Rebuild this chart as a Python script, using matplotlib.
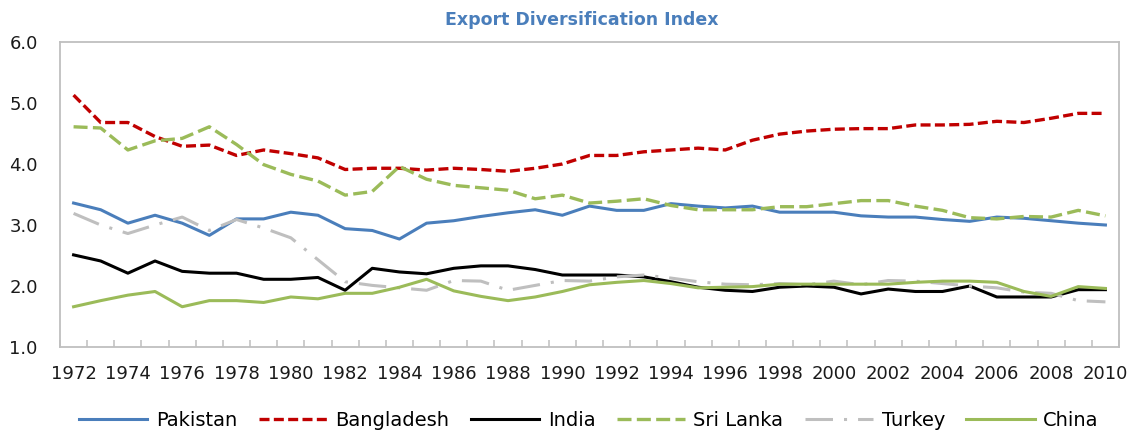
import numpy as np
import matplotlib
matplotlib.use("Agg")
import matplotlib.pyplot as plt

# --- Data ---
years = list(range(1972, 2011))

pakistan = [3.36, 3.25, 3.03, 3.16, 3.03, 2.83, 3.10, 3.10, 3.21, 3.16,
            2.94, 2.91, 2.77, 3.03, 3.07, 3.14, 3.20, 3.25, 3.16, 3.31,
            3.24, 3.24, 3.35, 3.31, 3.28, 3.31, 3.21, 3.21, 3.21, 3.15,
            3.13, 3.13, 3.09, 3.06, 3.13, 3.11, 3.07, 3.03, 3.00]
bangladesh = [5.13, 4.68, 4.68, 4.45, 4.29, 4.31, 4.14, 4.23, 4.17, 4.10,
              3.91, 3.93, 3.93, 3.90, 3.93, 3.91, 3.88, 3.93, 4.00, 4.14,
              4.14, 4.20, 4.23, 4.26, 4.23, 4.39, 4.49, 4.54, 4.57, 4.58,
              4.58, 4.64, 4.64, 4.65, 4.70, 4.68, 4.75, 4.83, 4.83]
india = [2.51, 2.41, 2.21, 2.41, 2.24, 2.21, 2.21, 2.11, 2.11, 2.14,
         1.93, 2.29, 2.23, 2.20, 2.29, 2.33, 2.33, 2.27, 2.18, 2.18,
         2.18, 2.15, 2.07, 1.98, 1.93, 1.91, 1.98, 2.00, 1.98, 1.87,
         1.95, 1.91, 1.91, 2.00, 1.82, 1.82, 1.82, 1.94, 1.94]
sri_lanka = [4.61, 4.59, 4.23, 4.38, 4.42, 4.61, 4.32, 3.99, 3.83, 3.72,
             3.49, 3.55, 3.96, 3.75, 3.65, 3.61, 3.57, 3.43, 3.49, 3.36,
             3.39, 3.43, 3.32, 3.25, 3.25, 3.25, 3.30, 3.30, 3.35, 3.40,
             3.40, 3.31, 3.24, 3.12, 3.10, 3.14, 3.13, 3.24, 3.15]
turkey = [3.19, 3.00, 2.86, 3.00, 3.13, 2.91, 3.09, 2.95, 2.79, 2.43,
          2.07, 2.01, 1.97, 1.93, 2.09, 2.08, 1.93, 2.01, 2.09, 2.08,
          2.15, 2.18, 2.13, 2.07, 2.03, 2.02, 2.04, 2.02, 2.08, 2.02,
          2.09, 2.08, 2.04, 2.00, 1.97, 1.90, 1.88, 1.76, 1.74]
china = [1.66, 1.76, 1.85, 1.91, 1.66, 1.76, 1.76, 1.73, 1.82, 1.79,
         1.88, 1.88, 1.98, 2.11, 1.92, 1.83, 1.76, 1.82, 1.91, 2.02,
         2.06, 2.09, 2.04, 1.97, 1.98, 1.99, 2.03, 2.03, 2.03, 2.03,
         2.03, 2.06, 2.08, 2.08, 2.06, 1.91, 1.83, 1.99, 1.96]

y_ticks = [1.0, 2.0, 3.0, 4.0, 5.0, 6.0]

# --- Styles ---
BLUE = "#4A7EBB"
RED = "#C00000"
LGREEN = "#9BBB59"
GREY = "#BFBFBF"

fig = plt.figure(figsize=(11.35, 4.32), dpi=100)
ax = fig.add_axes([60 / 1135, 1 - 347 / 432, 1059 / 1135, 305 / 432])

x = np.arange(len(years))
lw = 2.2
ax.plot(x, pakistan, color=BLUE, lw=lw, label="Pakistan")
ax.plot(x, bangladesh, color=RED, lw=2.4, dashes=(3.0, 1.3), label="Bangladesh")
ax.plot(x, india, color="black", lw=lw, label="India")
ax.plot(x, sri_lanka, color=LGREEN, lw=2.4, dashes=(4.2, 1.6), label="Sri Lanka")
ax.plot(x, turkey, color=GREY, lw=lw, dashes=(9.0, 3.6, 1.0, 3.6), label="Turkey")
ax.plot(x, china, color=LGREEN, lw=lw, label="China")

# axes / ticks
ax.set_xlim(-0.5, len(years) - 0.5)
ax.set_ylim(1.0, 6.0)
ax.set_yticks(y_ticks)
ax.set_yticklabels([f"{v:.1f}" for v in y_ticks])
ax.set_xticks(x[::2])
ax.set_xticklabels([str(y) for y in years[::2]])
ax.set_xticks(np.arange(-0.5, len(years) + 0.5, 1.0), minor=True)

ax.tick_params(axis="x", which="major", length=0, pad=13, labelsize=13, colors="#1a1a1a")
ax.tick_params(axis="x", which="minor", direction="in", length=5, width=1.1, color=GREY)
ax.tick_params(axis="y", length=0, pad=16, labelsize=13, colors="#1a1a1a")

for s in ax.spines.values():
    s.set_color(GREY)
    s.set_linewidth(1.3)

fig.text(582 / 1135, 1 - 20 / 432, "Export Diversification Index",
         ha="center", va="center", fontsize=12.5, fontweight="bold", color=BLUE)

fig.legend(loc="center", bbox_to_anchor=(589 / 1135, 1 - 420 / 432), ncol=6,
           frameon=False, fontsize=14, handlelength=3.5, handletextpad=0.45,
           columnspacing=1.1, borderaxespad=0)

fig.savefig("out.png", dpi=100)
